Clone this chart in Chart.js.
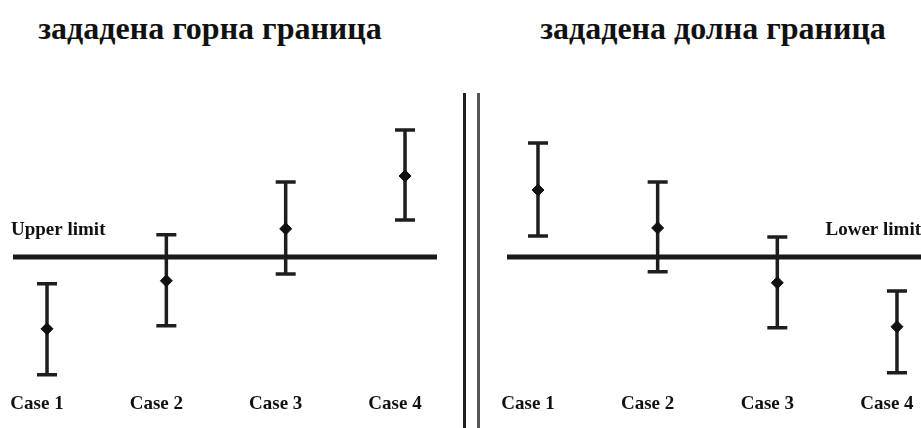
<!DOCTYPE html>
<html>
<head>
<meta charset="utf-8">
<script src="https://cdn.jsdelivr.net/npm/chart.js@4.4.1/dist/chart.umd.min.js"></script>
<style>
    html, body { margin: 0; padding: 0; background: #fff; overflow: hidden; }
    #wrap { position: relative; width: 921px; height: 428px; overflow: hidden; }
    .titulo {
        position: absolute; top: 10px; transform: translateX(-50%);
        font: bold 32px 'Liberation Serif', 'Times New Roman', serif;
        color: #111; white-space: nowrap; line-height: 36px;
    }
    #panelIzq { position: absolute; left: 0; top: 0; width: 460px; height: 428px; }
    #panelDer { position: absolute; left: 460px; top: 0; width: 490px; height: 428px; }
    #separador {
        position: absolute; left: 463px; top: 93px; width: 11px; height: 340px;
        border-left: 3px solid #1e1e1e; border-right: 3px solid #555;
    }
</style>
</head>
<body>
<div id="wrap">
    <div class="titulo" style="left:210px">зададена горна граница</div>
    <div class="titulo" style="left:713px">зададена долна граница</div>
    <div id="panelIzq"><canvas id="graficaSup"></canvas></div>
    <div id="separador"></div>
    <div id="panelDer"><canvas id="graficaInf"></canvas></div>
</div>
<script>
// Datos
const casos = ['Case 1', 'Case 2', 'Case 3', 'Case 4'];
const posiciones = [1, 2, 3, 4];
const limite = 0;

// zadadena gorna granica (upper limit)
const mediaSup = [-3.13, -1.04, 1.22, 3.52];
const altoSup = [-1.17, 0.96, 3.26, 5.52];
const bajoSup = [-5.13, -3.0, -0.74, 1.61];

// zadadena dolna granica (lower limit)
const mediaInf = [2.91, 1.26, -1.13, -3.04];
const altoInf = [4.96, 3.26, 0.87, -1.48];
const bajoInf = [0.91, -0.65, -3.09, -5.04];

const fuente = "'Liberation Serif', 'Times New Roman', serif";

// Barras de error dibujadas con las escalas de la gráfica
const barrasError = {
    id: 'barrasError',
    beforeDatasetsDraw(chart, args, opts) {
        const { ctx, scales: { x, y } } = chart;
        ctx.save();
        ctx.strokeStyle = '#1e1e1e';
        ctx.lineWidth = 3.5;
        opts.pos.forEach((p, i) => {
            const px = x.getPixelForValue(p);
            const top = y.getPixelForValue(opts.alto[i]);
            const bot = y.getPixelForValue(opts.bajo[i]);
            ctx.beginPath();
            ctx.moveTo(px, top); ctx.lineTo(px, bot);
            ctx.moveTo(px - 10, top); ctx.lineTo(px + 10, top);
            ctx.moveTo(px - 10, bot); ctx.lineTo(px + 10, bot);
            ctx.stroke();
        });
        ctx.restore();
    }
};

// Texto "Upper limit" / "Lower limit" junto a la línea
const textoLimite = {
    id: 'textoLimite',
    afterDraw(chart, args, opts) {
        const { ctx, chartArea, scales: { y } } = chart;
        ctx.save();
        ctx.font = 'bold 19px ' + fuente;
        ctx.fillStyle = '#111';
        ctx.textBaseline = 'middle';
        ctx.textAlign = opts.lado;
        const px = opts.lado === 'left' ? chartArea.left - 2 : chartArea.right - 9;
        ctx.fillText(opts.texto, px, y.getPixelForValue(limite) - 27);
        ctx.restore();
    }
};

function crearGrafica(id, media, alto, bajo, cfg) {
    const ctx = document.getElementById(id).getContext('2d');
    return new Chart(ctx, {
        type: 'scatter',
        data: {
            datasets: [
                {
                    label: 'limite',
                    type: 'line',
                    data: [{ x: cfg.xMin, y: limite }, { x: cfg.xMax, y: limite }],
                    borderColor: '#1a1a1a',
                    borderWidth: 5,
                    pointRadius: 0,
                    borderCapStyle: 'butt'
                },
                {
                    label: 'media',
                    data: posiciones.map((p, i) => ({ x: p, y: media[i] })),
                    pointStyle: 'rectRot',
                    pointRadius: 6,
                    backgroundColor: '#111',
                    borderColor: '#111',
                    borderWidth: 1
                }
            ]
        },
        options: {
            responsive: true,
            maintainAspectRatio: false,
            animation: false,
            layout: { padding: cfg.padding },
            plugins: {
                legend: { display: false },
                tooltip: { enabled: false },
                barrasError: { pos: posiciones, alto: alto, bajo: bajo },
                textoLimite: { texto: cfg.texto, lado: cfg.lado }
            },
            scales: {
                x: {
                    type: 'linear',
                    min: cfg.xMin,
                    max: cfg.xMax,
                    border: { display: false },
                    grid: { display: false, drawTicks: false, tickLength: 0 },
                    afterBuildTicks: axis => { axis.ticks = posiciones.map(v => ({ value: v })); },
                    ticks: {
                        padding: 3,
                        labelOffset: -10,
                        color: '#111',
                        font: { family: fuente, size: 19, weight: 'bold' },
                        callback: v => casos[posiciones.indexOf(v)]
                    }
                },
                y: {
                    display: false,
                    min: -5.76,
                    max: 8.57
                }
            }
        },
        plugins: [barrasError, textoLimite]
    });
}

crearGrafica('graficaSup', mediaSup, altoSup, bajoSup, {
    xMin: 0.715, xMax: 4.268,
    padding: { top: 60, left: 13, right: 23, bottom: 10 },
    texto: 'Upper limit', lado: 'left'
});

crearGrafica('graficaInf', mediaInf, altoInf, bajoInf, {
    xMin: 0.741, xMax: 4.276,
    padding: { top: 60, left: 47, right: 20, bottom: 10 },
    texto: 'Lower limit', lado: 'right'
});
</script>
</body>
</html>
